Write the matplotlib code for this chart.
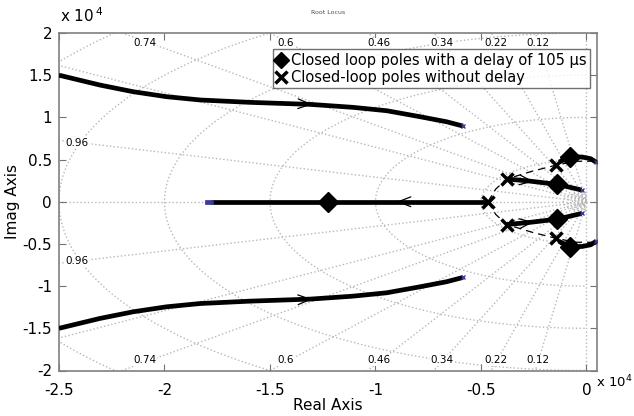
import numpy as np
import matplotlib
matplotlib.use("Agg")
import matplotlib.pyplot as plt

# ── data (units of 1e4 rad/s, scaled below) ─────────────────────────────────
SCALE = 1e4
up_x = [-2.5, -2.306, -2.148, -1.99, -1.83, -1.595, -1.31, -1.107, -0.947, -0.789, -0.663, -0.585]
up_y = [1.50, 1.383, 1.304, 1.245, 1.206, 1.178, 1.154, 1.119, 1.079, 1.008, 0.948, 0.897]
real_x = [-1.78, -0.467]
inner_x = [-0.378, -0.27, -0.138, -0.023]
inner_y = [0.270, 0.245, 0.206, 0.139]
top_x = [-0.13, -0.076, -0.02, 0.02, 0.045]
top_y = [0.47, 0.534, 0.53, 0.51, 0.47]
dash_x = [-0.467, -0.43, -0.378, -0.26, -0.142, -0.05, 0.045]
dash_y = [0.0, 0.15, 0.270, 0.36, 0.435, 0.48, 0.48]
delay_x = [-1.225, -0.138, -0.138, -0.076, -0.076]
delay_y = [0.0, 0.206, -0.206, 0.534, -0.534]
nodelay_x = [-0.467, -0.378, -0.378, -0.142, -0.142]
nodelay_y = [0.0, 0.270, -0.270, 0.435, -0.435]

zetas = [0.12, 0.22, 0.34, 0.46, 0.6, 0.74, 0.84, 0.96]
zeta_labels = ["0.12", "0.22", "0.34", "0.46", "0.6", "0.74"]
wn_big = [0.5, 1.0, 1.5, 2.0, 2.5, 3.0]
wn_small = [0.013, 0.024, 0.0365, 0.051, 0.066, 0.087, 0.11]

s = lambda v: np.asarray(v) * SCALE

fig = plt.figure(figsize=(6.34, 4.16), dpi=100)
ax = fig.add_axes([59 / 634, 1 - 370.5 / 416, 538 / 634, 337.5 / 416])

# ── s-plane grid ────────────────────────────────────────────────────────────
gkw = dict(color="0.72", ls=":", lw=1.0, zorder=1)
R = 5e4
for z in zetas:
    th = np.arccos(z)
    for sg in (1, -1):
        ax.plot([0, -R * np.cos(th)], [0, sg * R * np.sin(th)], **gkw)
ax.plot([-R, 0], [0, 0], **gkw)
ax.plot([0, 0], [-R, R], **gkw)
ax.plot([0, 600], [0, 0], **gkw)
t = np.linspace(np.pi / 2, 3 * np.pi / 2, 400)
for w in wn_big + wn_small:
    ax.plot(w * SCALE * np.cos(t), w * SCALE * np.sin(t), **gkw)

for z, lab in zip(zetas, zeta_labels):
    xx = -1.9e4 / np.tan(np.arccos(z))
    for sg in (1, -1):
        ax.text(xx, sg * 1.88e4, lab, fontsize=7.5, ha="center", va="center",
                zorder=2, bbox=dict(fc="white", ec="none", pad=0.3))
for sg in (1, -1):
    ax.text(-2.415e4, sg * 0.70e4, "0.96", fontsize=7.5, ha="center", va="center",
            zorder=2, bbox=dict(fc="white", ec="none", pad=0.3))

# ── loci ────────────────────────────────────────────────────────────────────
lkw = dict(color="black", lw=3.4, solid_capstyle="butt", solid_joinstyle="round", zorder=4)
for sg in (1, -1):
    ax.plot(s(up_x), sg * s(up_y), **lkw)
    ax.plot(s(inner_x), sg * s(inner_y), **lkw)
    ax.plot(s(top_x), sg * s(top_y), **lkw)
    ax.plot(s(dash_x), sg * s(dash_y), color="black", lw=0.9, ls=(0, (6, 4)), zorder=3)
ax.plot(s(real_x), [0, 0], **lkw)
ax.plot(s([-1.80, -1.78]), [0, 0], color="#3a3a9a", lw=3.4, zorder=4)
for sg in (1, -1):
    ax.plot(s([-0.585, -0.023, 0.045]), sg * s([0.897, 0.139, 0.47]), ls="none",
            marker="x", ms=2.5, color="#3a3a9a", zorder=5)


def chevron(x0, y0, x1, y1):
    ax.annotate("", xy=(x1 * SCALE, y1 * SCALE), xytext=(x0 * SCALE, y0 * SCALE),
                arrowprops=dict(arrowstyle="->,head_length=0.9,head_width=0.35",
                                lw=0.9, color="black", shrinkA=0, shrinkB=0), zorder=6)


chevron(-1.40, 1.165, -1.30, 1.155)
chevron(-1.40, -1.165, -1.30, -1.155)
chevron(-0.80, 0.0, -0.90, 0.0)
chevron(-0.32, 0.26, -0.25, 0.24)
chevron(-0.32, -0.26, -0.25, -0.24)

ax.plot(s(delay_x), s(delay_y), ls="none", marker="D", ms=10, color="black", zorder=7,
        label="Closed loop poles with a delay of 105 \u03bcs")
ax.plot(s(nodelay_x), s(nodelay_y), ls="none", marker="x", ms=9, mew=2.5, color="black",
        zorder=7, label="Closed-loop poles without delay")

# ── axes cosmetics ──────────────────────────────────────────────────────────
ax.set_xlim(-2.5e4, 500)
ax.set_ylim(-2e4, 2e4)
xt = [-2.5, -2, -1.5, -1, -0.5, 0]
yt = [-2, -1.5, -1, -0.5, 0, 0.5, 1, 1.5, 2]
ax.set_xticks(s(xt))
ax.set_xticklabels(["-2.5", "-2", "-1.5", "-1", "-0.5", "0"])
ax.set_yticks(s(yt))
ax.set_yticklabels(["-2", "-1.5", "-1", "-0.5", "0", "0.5", "1", "1.5", "2"])
ax.tick_params(direction="in", length=5, color="0.45", labelsize=11,
               top=True, right=True)
ax.tick_params(axis="x", pad=9)
ax.tick_params(axis="y", pad=5)
for sp in ax.spines.values():
    sp.set_color("0.5")
    sp.set_linewidth(1.2)

ax.set_xlabel("Real Axis", fontsize=11, labelpad=0)
ax.set_ylabel("Imag Axis", fontsize=11, labelpad=2)
ax.set_title("Root Locus", fontsize=4.5, color="0.3", pad=14)
fig.text(60 / 634, 1 - 16 / 416, r"x 10$^{\,4}$", fontsize=11, va="center", ha="left")
fig.text(596 / 634, 1 - 382 / 416, r"x 10$^{4}$", fontsize=9.5, va="center", ha="left")

leg = ax.legend(loc="upper right", bbox_to_anchor=(0.987, 0.9526), borderaxespad=0,
                fontsize=10.5, frameon=True, fancybox=False, handlelength=0.6,
                handletextpad=0.4, borderpad=0.25, labelspacing=0.15)
leg.get_frame().set_edgecolor("0.3")
leg.get_frame().set_linewidth(1.0)
for h in leg.legend_handles:
    h.set_markersize(8)

fig.savefig("out.png", dpi=100)
